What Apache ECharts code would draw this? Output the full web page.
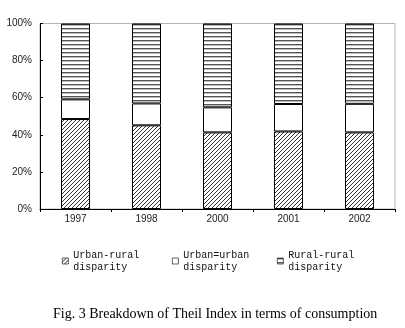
<!DOCTYPE html>
<html>
<head>
<meta charset="utf-8">
<script src="https://cdn.jsdelivr.net/npm/echarts@6/dist/echarts.min.js"></script>
<style>html,body{margin:0;padding:0;background:#fff;}#c{width:405px;height:328px;}</style>
</head>
<body>
<div id="c"></div>
<script>
const categories = ['1997', '1998', '2000', '2001', '2002'];
const urbanRural = [48.5, 45.1, 41.3, 41.8, 41.3];
const urbanUrban = [10.6, 11.8, 13.5, 14.8, 15.4];
const ruralRural = [40.9, 43.1, 45.2, 43.4, 43.3];
const yTicks = [0, 20, 40, 60, 80, 100];
const seriesNames = ['Urban-rural\ndisparity', 'Urban=urban\ndisparity', 'Rural-rural\ndisparity'];

function makeTile(size, painter) {
  const cv = document.createElement('canvas');
  cv.width = size; cv.height = size;
  const ctx = cv.getContext('2d');
  ctx.fillStyle = '#fff';
  ctx.fillRect(0, 0, size, size);
  painter(ctx, size);
  return cv;
}
const hatch = makeTile(4, (ctx, n) => {
  ctx.fillStyle = '#333';
  for (let i = 0; i < n; i++) ctx.fillRect(i, n - 1 - i, 1, 1);
});
const hlines = makeTile(4, (ctx, n) => {
  ctx.fillStyle = '#555';
  ctx.fillRect(0, 0, n, 1);
  ctx.fillStyle = '#bbb';
  ctx.fillRect(0, 1, n, 1);
});

const chart = echarts.init(document.getElementById('c'), null, {renderer: 'canvas'});
const legendBase = {
  orient: 'horizontal', top: 243, padding: 0,
  itemWidth: 6, itemHeight: 6, itemGap: 3, icon: 'rect',
  itemStyle: {borderWidth: 0.7, borderColor: '#222'},
  textStyle: {fontFamily: 'Liberation Mono', fontSize: 10, color: '#111', lineHeight: 12, padding: [12, 0, 0, 0]}
};
const barStyle = {borderColor: '#000', borderWidth: 1};
chart.setOption({
  animation: false,
  title: {
    text: 'Fig. 3 Breakdown of Theil Index in terms of consumption',
    left: 53, top: 307, padding: 0,
    textStyle: {fontFamily: 'Liberation Serif', fontSize: 14, fontWeight: 'normal', color: '#000'}
  },
  legend: [
    Object.assign({}, legendBase, {left: 62, data: [seriesNames[0]]}),
    Object.assign({}, legendBase, {left: 172, data: [seriesNames[1]]}),
    Object.assign({}, legendBase, {left: 277, data: [seriesNames[2]]})
  ],
  grid: {left: 40, top: 23.5, width: 355, height: 185.5, show: true, borderColor: '#b4b4b4', borderWidth: 1, backgroundColor: 'transparent'},
  xAxis: {
    type: 'category', data: categories,
    axisLine: {lineStyle: {color: '#000', width: 1}},
    axisTick: {show: true, length: 3, lineStyle: {color: '#000'}},
    axisLabel: {color: '#222', fontFamily: 'Liberation Sans', fontSize: 10, margin: 5}
  },
  yAxis: {
    type: 'value', min: yTicks[0], max: yTicks[yTicks.length - 1], interval: 20,
    axisLine: {show: true, lineStyle: {color: '#000', width: 1}},
    axisTick: {show: true, inside: true, length: 3, lineStyle: {color: '#000'}},
    splitLine: {show: false},
    axisLabel: {color: '#222', fontFamily: 'Liberation Sans', fontSize: 10, margin: 8, formatter: '{value}%'}
  },
  series: [
    {name: seriesNames[0], type: 'bar', stack: 's', barWidth: 29, data: urbanRural,
     itemStyle: Object.assign({color: {image: hatch, repeat: 'repeat'}}, barStyle)},
    {name: seriesNames[1], type: 'bar', stack: 's', barWidth: 29, data: urbanUrban,
     itemStyle: Object.assign({color: '#fff'}, barStyle)},
    {name: seriesNames[2], type: 'bar', stack: 's', barWidth: 29, data: ruralRural,
     itemStyle: Object.assign({color: {image: hlines, repeat: 'repeat'}}, barStyle)}
  ]
});
</script>
</body>
</html>
